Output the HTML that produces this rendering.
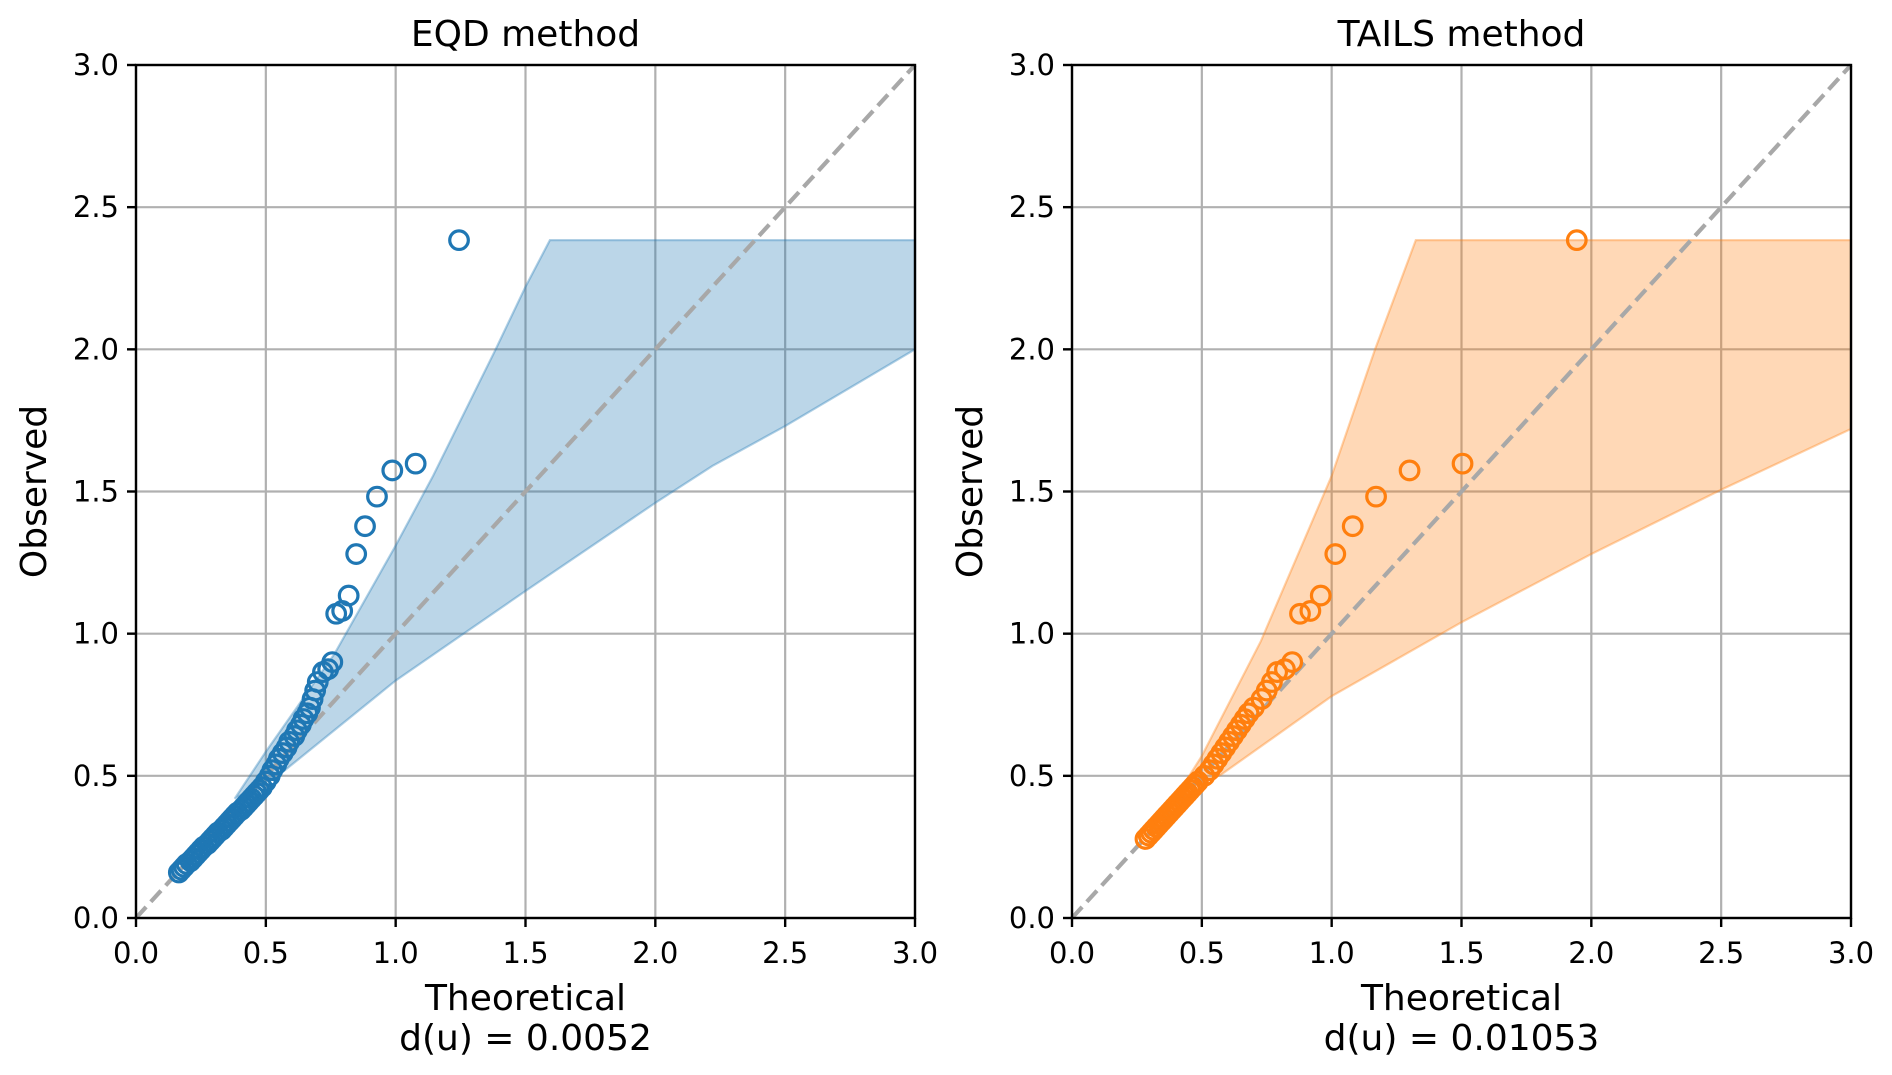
<!DOCTYPE html>
<html><head><meta charset="utf-8"><style>
body{margin:0;background:#fff;}
svg{display:block;font-family:"DejaVu Sans","Liberation Sans",sans-serif;}
</style></head><body>
<svg id="chart" width="1892" height="1075" viewBox="0 0 1892 1075" xmlns="http://www.w3.org/2000/svg"></svg>
<script>
const ticks = [0, 0.5, 1.0, 1.5, 2.0, 2.5, 3.0];
const tickLabels = ["0.0","0.5","1.0","1.5","2.0","2.5","3.0"];
const titles = ["EQD method", "TAILS method"];
const statLabels = ["d(u) = 0.0052", "d(u) = 0.01053"];
const colors = ["#1f77b4", "#ff7f0e"];

const eqdObs = [0.16,0.17,0.18,0.19,0.20,0.21,0.22,0.23,0.24,0.25,0.26,0.27,0.28,0.29,0.30,0.31,0.32,0.33,0.34,0.35,0.36,0.37,0.38,0.39,0.40,0.41,0.42,0.43,0.44,0.45,0.46,0.48,0.50,0.52,0.54,0.56,0.58,0.60,0.62,0.64,0.66,0.68,0.70,0.72,0.74,0.77,0.80,0.83,0.865,0.875,0.90,1.07,1.08,1.134,1.28,1.378,1.482,1.574,1.598,2.384];
const eqdTheo = [0.165,0.175,0.185,0.195,0.21,0.22,0.23,0.24,0.25,0.26,0.275,0.285,0.295,0.305,0.315,0.33,0.34,0.35,0.36,0.37,0.38,0.39,0.405,0.415,0.425,0.435,0.445,0.455,0.465,0.475,0.485,0.50,0.515,0.525,0.54,0.55,0.565,0.58,0.59,0.61,0.62,0.635,0.645,0.66,0.67,0.68,0.69,0.70,0.72,0.74,0.756,0.771,0.794,0.819,0.848,0.882,0.928,0.987,1.077,1.244];

const tailsObs = [0.278,0.29,0.30,0.31,0.32,0.33,0.34,0.35,0.36,0.37,0.38,0.39,0.40,0.41,0.42,0.43,0.44,0.45,0.46,0.47,0.48,0.50,0.52,0.54,0.56,0.58,0.60,0.62,0.64,0.66,0.68,0.70,0.72,0.74,0.77,0.80,0.83,0.865,0.875,0.90,1.07,1.08,1.134,1.28,1.378,1.482,1.574,1.598,2.384];
const tailsTheo = [0.283,0.295,0.305,0.315,0.325,0.335,0.345,0.355,0.365,0.375,0.385,0.395,0.405,0.415,0.425,0.435,0.445,0.455,0.465,0.475,0.485,0.51,0.53,0.545,0.56,0.575,0.59,0.605,0.62,0.635,0.65,0.665,0.68,0.70,0.73,0.75,0.77,0.79,0.82,0.848,0.878,0.918,0.958,1.014,1.081,1.171,1.30,1.504,1.944];

const eqdUpperX = [0.38,0.5,0.765,1.0,1.144,1.385,1.5,1.594,3.0];
const eqdUpperY = [0.42,0.585,0.93,1.31,1.555,2.0,2.22,2.384,2.384];
const eqdLowerX = [3.0,2.5,2.22,2.0,1.5,1.0,0.574,0.38];
const eqdLowerY = [2.0,1.73,1.59,1.46,1.15,0.835,0.52,0.42];

const tailsUpperX = [0.41,0.5,0.727,1.0,1.167,1.324,3.0];
const tailsUpperY = [0.44,0.57,0.973,1.555,2.0,2.384,2.384];
const tailsLowerX = [3.0,2.5,2.0,1.5,1.0,0.574,0.41];
const tailsLowerY = [1.72,1.506,1.28,1.04,0.78,0.504,0.44];

const NS = "http://www.w3.org/2000/svg";
const svg = document.getElementById("chart");
function mk(tag, attrs, parent){ const e=document.createElementNS(NS,tag); for(const k in attrs) e.setAttribute(k,attrs[k]); (parent||svg).appendChild(e); return e; }

const panels = [
  {x0:136, obs:eqdObs, theo:eqdTheo, ux:eqdUpperX, uy:eqdUpperY, lx:eqdLowerX, ly:eqdLowerY, key:"eqd"},
  {x0:1072, obs:tailsObs, theo:tailsTheo, ux:tailsUpperX, uy:tailsUpperY, lx:tailsLowerX, ly:tailsLowerY, key:"tails"}
];
const W=779, plotTop=65, plotBottom=918;

panels.forEach((p,i)=>{
  const sx=v=>p.x0+v/3*W, sy=v=>plotBottom-v/3*(plotBottom-plotTop);
  const g=mk("g",{});
  
  
  ticks.forEach(t=>{
    const gx=mk("line",{x1:sx(t),x2:sx(t),y1:plotTop,y2:plotBottom,stroke:"#b0b0b0","stroke-width":2.2},g);
    
    
    const gy=mk("line",{x1:p.x0,x2:p.x0+W,y1:sy(t),y2:sy(t),stroke:"#b0b0b0","stroke-width":2.2},g);
    
    
  });
  let pts=[];
  p.ux.forEach((x,k)=>pts.push(sx(x)+","+sy(p.uy[k])));
  p.lx.forEach((x,k)=>pts.push(sx(x)+","+sy(p.ly[k])));
  const band=mk("polygon",{points:pts.join(" "),fill:colors[i],"fill-opacity":0.3,stroke:colors[i],"stroke-opacity":0.35,"stroke-width":2.2},g);
  
  
  const diag=mk("line",{x1:sx(0),y1:sy(0),x2:sx(3),y2:sy(3),stroke:"#a8a8a8","stroke-width":4.2,"stroke-dasharray":"15 7"},g);
  
  
  p.theo.forEach((t,k)=>{
    const c=mk("circle",{cx:sx(t),cy:sy(p.obs[k]),r:9.3,fill:"none",stroke:colors[i],"stroke-width":3.2},g);
    
    
  });
  const sp=mk("rect",{x:p.x0,y:plotTop,width:W,height:plotBottom-plotTop,fill:"none",stroke:"#000","stroke-width":2.4},g);
  
  
  ticks.forEach((t,k)=>{
    mk("line",{x1:sx(t),x2:sx(t),y1:plotBottom,y2:plotBottom+9,stroke:"#000","stroke-width":2.4},g);
    const xl=mk("text",{x:sx(t),y:plotBottom+45,"text-anchor":"middle","font-size":29,fill:"#000"},g);
    xl.textContent=tickLabels[k];
    
    
    mk("line",{x1:p.x0-9,x2:p.x0,y1:sy(t),y2:sy(t),stroke:"#000","stroke-width":2.4},g);
    const yl=mk("text",{x:p.x0-17,y:sy(t)+10,"text-anchor":"end","font-size":29,fill:"#000"},g);
    yl.textContent=tickLabels[k];
    
    
  });
  const ti=mk("text",{x:p.x0+W/2,y:46,"text-anchor":"middle","font-size":36,fill:"#000"},g);
  ti.textContent=titles[i];
  
  
  const xt=mk("text",{x:p.x0+W/2,y:1010,"text-anchor":"middle","font-size":36,fill:"#000"},g);
  xt.textContent="Theoretical";
  
  
  const st=mk("text",{x:p.x0+W/2,y:1050,"text-anchor":"middle","font-size":36,fill:"#000"},g);
  st.textContent=statLabels[i];
  
  
  const yt=mk("text",{x:0,y:0,"text-anchor":"middle","font-size":36,fill:"#000",transform:"translate("+(p.x0-90)+","+((plotTop+plotBottom)/2)+") rotate(-90)"},g);
  yt.textContent="Observed";
  
  
});
</script>
</body></html>
